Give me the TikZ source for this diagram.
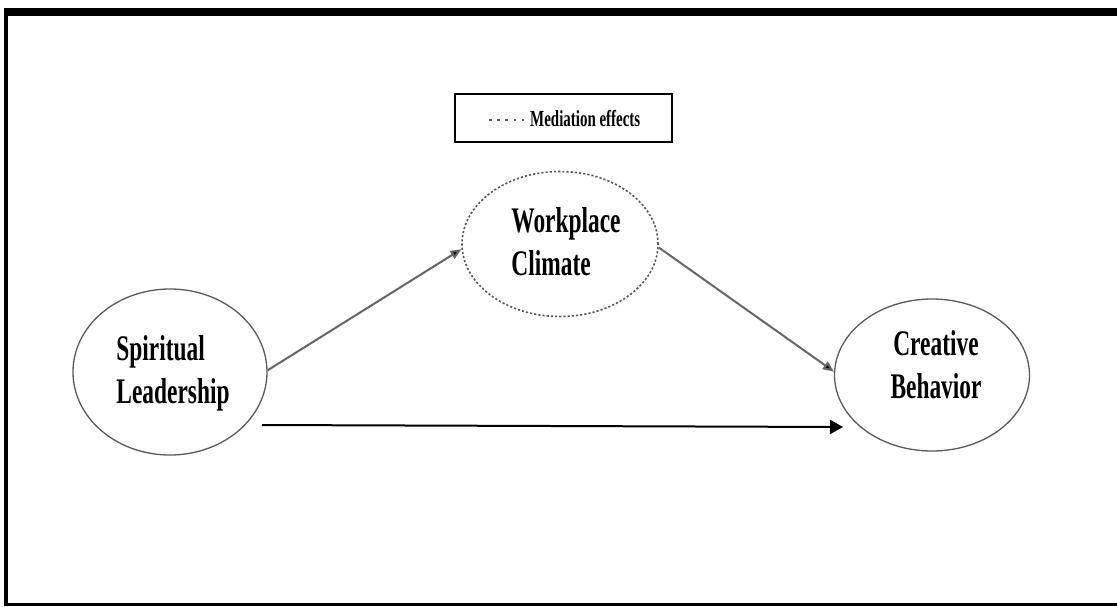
\documentclass[tikz,border=0pt]{standalone}
\usepackage{fontspec}
\usetikzlibrary{shapes.geometric,arrows.meta}
\newfontfamily\tnr[FakeStretch=0.65]{Liberation Serif}
\tikzset{
  every node/.style={font=\tnr\bfseries},
  oval/.style={ellipse, draw=black!65, line width=1.3pt, inner sep=0pt},
  medoval/.style={ellipse, draw=black!65, line width=1.6pt, dash pattern=on 2.2pt off 2pt, inner sep=0pt},
  lbl/.style={inner sep=0pt, font=\fontsize{36}{43}\tnr\bfseries},
  grayarrow/.style={draw=black!60, line width=2pt, -{Triangle[length=11pt,width=9pt,fill=black]}},
  blackarrow/.style={draw=black, line width=2pt, -{Triangle[length=13pt,width=14pt]}},
}
\begin{document}
\begin{tikzpicture}[x=1pt,y=-1pt]
\useasboundingbox (0,0) rectangle (1117,606);
% outer frame
\fill[black] (4,8) rectangle (1117,16);
\fill[black] (4,8) rectangle (8,606);
\fill[black] (4,603) rectangle (1117,606);
% legend
\node[draw=black, line width=2pt, minimum width=217pt, minimum height=48pt, inner sep=0pt] (legend) at (563.5,118) {};
\coordinate (legA) at (489,120);
\coordinate (legB) at (527,120);
\draw[black!65, line width=2.6pt, dash pattern=on 2.6pt off 5.6pt] (legA) -- (legB);
\node[inner sep=0pt, anchor=west, font=\fontsize{23}{26}\tnr\bfseries] (legtext) at (530,119) {Mediation effects};
% ellipses
\node[medoval, minimum width=196pt, minimum height=145pt] (wc) at (560,244) {};
\node[oval, minimum width=194pt, minimum height=166pt] (sl) at (170,372) {};
\node[oval, minimum width=195pt, minimum height=152pt] (cb) at (932,375) {};
% labels
\node[lbl, align=left] (wct) at (566,242) {Workplace\\Climate};
\node[lbl, align=left] (slt) at (173,373) {Spiritual\\Leadership};
\node[lbl, align=center] (cbt) at (936,365) {Creative\\Behavior};
% connectors
\draw[grayarrow] (sl.1) -- (wc.183);
\draw[grayarrow] (wc.358) -- (cb.178);
\coordinate (d1) at (262,425);
\coordinate (d2) at (843,427);
\draw[blackarrow] (d1) -- (d2);
\end{tikzpicture}
\end{document}
